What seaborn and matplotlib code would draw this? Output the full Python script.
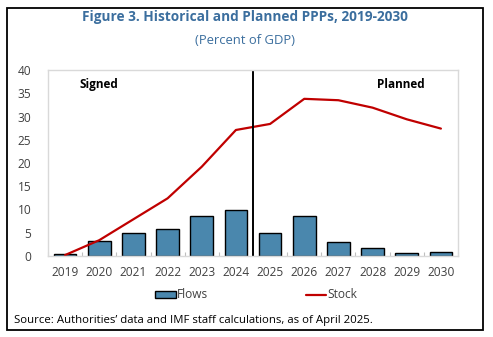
import matplotlib
matplotlib.use("Agg")
import matplotlib.pyplot as plt
from matplotlib.patches import Rectangle, Patch
from matplotlib.lines import Line2D
import numpy as np
import pandas as pd
import seaborn as sns

years = ["2019", "2020", "2021", "2022", "2023", "2024",
         "2025", "2026", "2027", "2028", "2029", "2030"]
flows = [0.4, 3.2, 5.0, 5.7, 8.5, 9.8, 4.9, 8.5, 3.1, 1.7, 0.7, 0.9]
stock = [0.2, 3.4, 7.9, 12.4, 19.2, 27.1, 28.4, 33.8, 33.5, 31.9, 29.4, 27.4]
yticks = [0, 5, 10, 15, 20, 25, 30, 35, 40]
last_signed = "2024"

sns.set_theme(style="white")
plt.rcParams["font.family"] = ["Open Sans", "DejaVu Sans"]

df = pd.DataFrame({"year": years, "flows": flows, "stock": stock})
df["pos"] = np.arange(len(df))

fig = plt.figure(figsize=(4.93, 3.37), dpi=100)
ax = fig.add_axes([48 / 493, 1 - 256 / 337, 410 / 493, 186 / 337])

bar_color = "#4A87AD"
line_color = "#C00000"
text_color = "#404040"

sns.barplot(data=df, x="year", y="flows", color=bar_color, width=0.66,
            edgecolor="black", linewidth=1.0, saturation=1, ax=ax)
sns.lineplot(data=df, x="pos", y="stock", color=line_color, linewidth=1.6,
             ax=ax, legend=False)

# boundary between signed and planned periods
split = years.index(last_signed) + 0.5
ax.axvline(split, ymin=0, ymax=1, color="black", linewidth=1.4)

ax.set_xlim(-0.5, len(years) - 0.5)
ax.set_ylim(0, 40)
ax.set_yticks(yticks)
ax.set_xticks(np.arange(len(years)))
ax.set_xticklabels(years)
ax.set_xlabel("")
ax.set_ylabel("")
ax.set_xticks(np.arange(len(years) + 1) - 0.5, minor=True)
ax.tick_params(axis="x", which="major", length=0, pad=7.5, labelsize=8.6, labelcolor=text_color)
ax.tick_params(axis="x", which="minor", bottom=True, length=3, direction="in",
               color="#BFBFBF", width=0.8)
ax.tick_params(axis="y", length=0, pad=12, labelsize=8.6, labelcolor=text_color)
for s in ax.spines.values():
    s.set_visible(True)
    s.set_color("#D9D9D9")
    s.set_linewidth(1.0)

ax.text(1.0, 36.8, "Signed", ha="center", va="center", fontsize=8.5,
        fontweight="bold", color="black")
ax.text(9.82, 36.8, "Planned", ha="center", va="center", fontsize=8.5,
        fontweight="bold", color="black")

fig.text(0.497, 1 - 17 / 337, "Figure 3. Historical and Planned PPPs, 2019-2030",
         ha="center", va="center", fontsize=9.8, fontweight="bold", color="#3B6E9E")
fig.text(0.497, 1 - 40 / 337, "(Percent of GDP)", ha="center", va="center",
         fontsize=9.4, color="#3B6E9E")

handles = [Patch(facecolor=bar_color, edgecolor="black", linewidth=1.0),
           Line2D([0], [0], color=line_color, linewidth=1.6)]
fig.legend(handles, ["Flows", "Stock"], loc="center", bbox_to_anchor=(0.52, 1 - 295 / 337),
           ncol=2, frameon=False, fontsize=8.6, handlelength=1.7, handleheight=0.55,
           handletextpad=0.1, columnspacing=8.2, labelcolor=text_color)

fig.text(14 / 493, 1 - 320 / 337,
         "Source: Authorities\u2019 data and IMF staff calculations, as of April 2025.",
         ha="left", va="center", fontsize=8.17, color="black")

# outer frame around the whole figure
fig.add_artist(Rectangle((7 / 493, 1 - 330 / 337), 476 / 493, 322 / 337,
                         transform=fig.transFigure, fill=False,
                         edgecolor="black", linewidth=1.3))

fig.savefig("out.png", dpi=100)
